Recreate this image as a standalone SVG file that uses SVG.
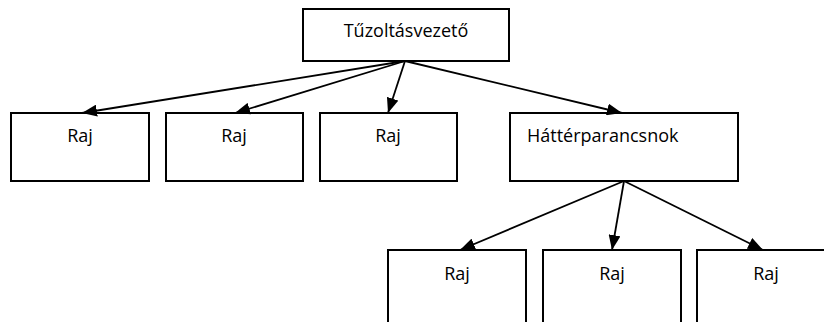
<svg xmlns="http://www.w3.org/2000/svg" width="824" height="322" viewBox="0 0 824 322">
<style>
.box{fill:#fff;stroke:#000;stroke-width:2}
.t{font-family:"Open Sans","Noto Sans",sans-serif;font-size:18px;fill:#000}
.c{text-anchor:middle}
.conn line{stroke:#000;stroke-width:1.8;marker-end:url(#ah)}
</style>
<defs>
<marker id="ah" markerUnits="userSpaceOnUse" markerWidth="16" markerHeight="12" refX="15" refY="6" orient="auto">
<path d="M0,0 L15,6 L0,12 z" fill="#000"/>
</marker>
</defs>
<rect width="824" height="322" fill="#fff"/>
<g id="n-top"><rect class="box" x="303" y="9" width="206" height="52"/><text class="t c" x="406" y="37">Tűzoltásvezető</text></g>
<g id="n-raj1"><rect class="box" x="11" y="113" width="138" height="68"/><text class="t c" x="80" y="142">Raj</text></g>
<g id="n-raj2"><rect class="box" x="166" y="113" width="137" height="68"/><text class="t c" x="234" y="142">Raj</text></g>
<g id="n-raj3"><rect class="box" x="320" y="113" width="137" height="68"/><text class="t c" x="388" y="142">Raj</text></g>
<g id="n-hatter"><rect class="box" x="510" y="113" width="228" height="68"/><text class="t" x="527" y="142">Háttérparancsnok</text></g>
<g id="n-raj4"><rect class="box" x="388" y="250" width="138" height="90"/><text class="t c" x="457" y="280">Raj</text></g>
<g id="n-raj5"><rect class="box" x="543" y="250" width="138" height="90"/><text class="t c" x="612" y="280">Raj</text></g>
<g id="n-raj6"><rect class="box" x="697" y="250" width="140" height="90"/><text class="t c" x="766" y="280">Raj</text></g>
<g class="conn" id="connectors">
<line x1="405" y1="61" x2="82" y2="113"/>
<line x1="405" y1="61" x2="235" y2="113"/>
<line x1="405" y1="61" x2="388" y2="113"/>
<line x1="405" y1="61" x2="622" y2="113"/>
<line x1="624" y1="181" x2="460" y2="250"/>
<line x1="624" y1="181" x2="612" y2="250"/>
<line x1="624" y1="181" x2="763" y2="250"/>
</g>
</svg>
